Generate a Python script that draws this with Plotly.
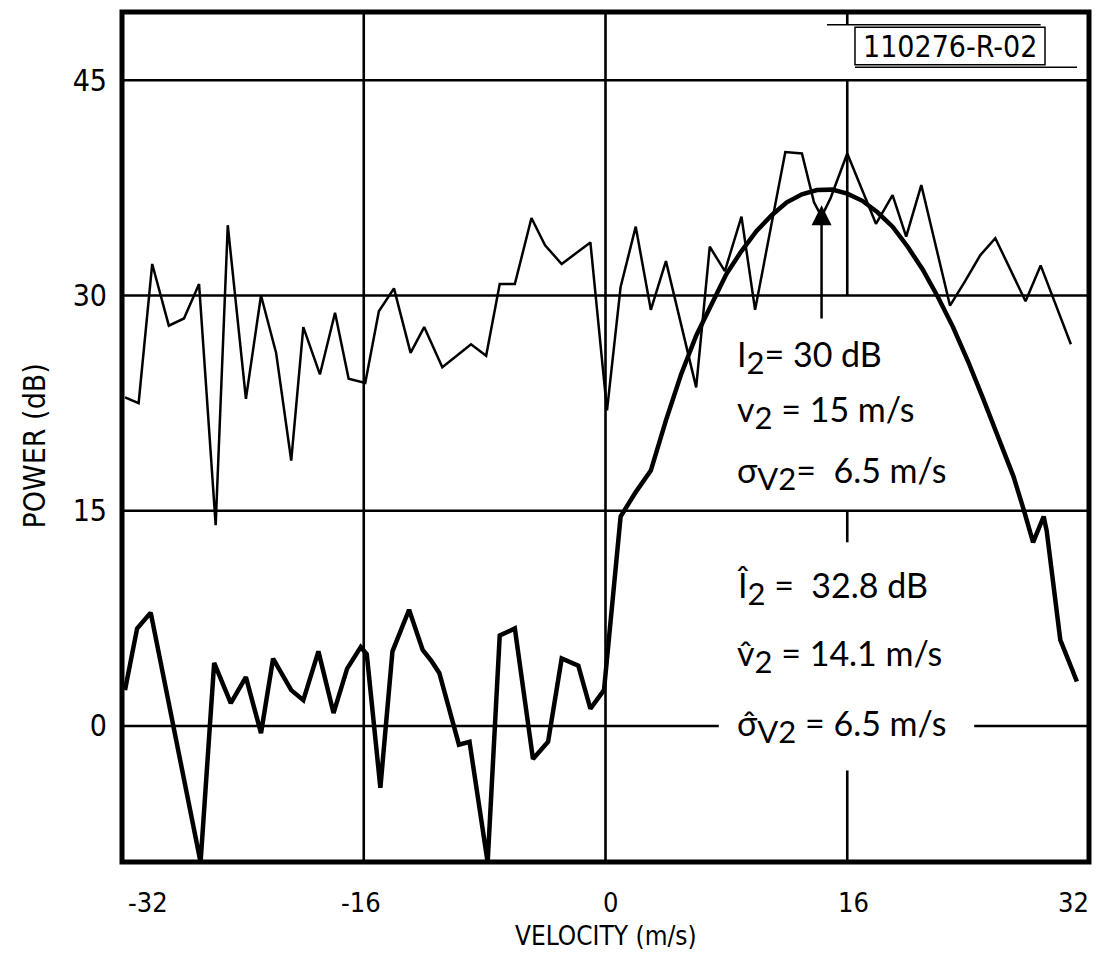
import plotly.graph_objects as go

# ---- data ----
thin_v = [-31.8, -30.9, -30.0, -28.9, -27.9, -26.9, -25.8, -25.0, -23.8, -22.8, -21.8, -20.8,
          -20.0, -18.9, -17.9, -17.0, -15.9, -15.0, -14.0, -12.9, -12.0, -10.8, -8.9, -7.9,
          -7.0, -6.0, -4.9, -4.0, -2.9, -1.0, 0.1, 1.0, 2.0, 3.0, 4.0, 6.0, 6.9, 7.9, 9.0,
          9.9, 11.9, 13.0, 13.8, 14.3, 14.9, 16.0, 17.9, 19.0, 19.9, 20.9, 22.8, 23.8, 24.8,
          25.8, 27.8, 28.8, 30.8]
thin_p = [22.9, 22.5, 32.2, 27.9, 28.4, 30.8, 14.0, 34.9, 22.8, 30.0, 26.0, 18.5,
          27.8, 24.5, 28.8, 24.2, 23.9, 28.9, 30.5, 26.0, 27.8, 25.0, 26.6, 25.8,
          30.8, 30.8, 35.4, 33.5, 32.2, 33.7, 22.0, 30.6, 34.8, 29.0, 32.4, 23.6, 33.4, 31.7, 35.5,
          29.0, 40.0, 39.9, 36.5, 35.5, 36.8, 39.9, 35.0, 37.0, 34.1, 37.7, 29.3, 31.0, 32.8,
          34.0, 29.6, 32.1, 26.6]

thick_v = [-31.8, -31.0, -30.1, -26.8, -25.9, -24.8, -23.8, -22.8, -22.0, -20.8, -20.0, -19.0,
           -18.0, -17.1, -16.2, -15.8, -14.9, -14.1, -13.0, -12.1, -11.5, -11.0, -9.7, -9.0,
           -7.8, -7.0, -6.0, -4.8, -3.8, -2.9, -1.8, -1.0, -0.1, 0.5, 1.0, 2.0, 3.0, 4.0,
           5.0, 6.0, 7.0, 8.0, 9.0, 10.0, 11.0, 12.0, 13.0, 14.0, 15.0, 16.0, 17.0, 18.0,
           19.0, 20.0, 21.0, 22.0, 23.0, 24.0, 25.0, 26.0, 27.0, 27.7, 28.3, 29.0, 29.2,
           30.1, 31.2]
thick_p = [2.5, 6.8, 7.9, -9.5, 4.4, 1.6, 3.4, -0.5, 4.7, 2.5, 1.8, 5.2,
           0.9, 4.0, 5.5, 5.0, -4.3, 5.2, 8.1, 5.3, 4.5, 3.7, -1.3, -1.1,
           -9.5, 6.3, 6.8, -2.3, -1.1, 4.7, 4.2, 1.2, 2.5, 9.5, 14.6, 16.3, 17.8, 21.3,
           24.5, 27.2, 29.4, 31.5, 33.1, 34.5, 35.6, 36.5, 37.05, 37.35, 37.38, 37.1, 36.6, 35.8,
           34.8, 33.4, 31.8, 29.9, 27.8, 25.4, 22.8, 20.2, 17.4, 15.0, 12.8, 14.6, 13.6,
           6.0, 3.1]

x_ticks = [-32, -16, 0, 16, 32]
y_ticks = [0, 15, 30, 45]
x_tick_text = ["-32", "-16", "0", "16", "32"]
est_velocity = 14.3  # arrow position (estimated mean velocity)

X_RANGE = [-32, 32]
Y_RANGE = [-9.48, 49.76]

fig = go.Figure()
fig.add_trace(go.Scatter(x=thin_v, y=thin_p, mode="lines",
                         line=dict(color="black", width=2.5), hoverinfo="skip"))
fig.add_trace(go.Scatter(x=thick_v, y=thick_p, mode="lines",
                         line=dict(color="black", width=4.5), hoverinfo="skip"))

GRID_W = 2.6
shapes = []
for yv in [15, 30, 45]:
    shapes.append(dict(type="line", xref="x", yref="y", x0=X_RANGE[0], x1=X_RANGE[1],
                       y0=yv, y1=yv, line=dict(color="black", width=GRID_W), layer="below"))
for xa, xb in [(X_RANGE[0], 7.5), (24.4, X_RANGE[1])]:
    shapes.append(dict(type="line", xref="x", yref="y", x0=xa, x1=xb, y0=0, y1=0,
                       line=dict(color="black", width=GRID_W), layer="below"))
for xv in [-16, 0]:
    shapes.append(dict(type="line", xref="x", yref="y", x0=xv, x1=xv,
                       y0=Y_RANGE[0], y1=Y_RANGE[1], line=dict(color="black", width=GRID_W),
                       layer="below"))
for ya, yb in [(30, 45), (12.8, 15), (Y_RANGE[0], -3.1), (48.9, Y_RANGE[1])]:
    shapes.append(dict(type="line", xref="x", yref="y", x0=16, x1=16, y0=ya, y1=yb,
                       line=dict(color="black", width=GRID_W), layer="below"))
shapes.append(dict(type="rect", xref="paper", yref="paper", x0=0, x1=1, y0=0, y1=1,
                   line=dict(color="black", width=5)))
shapes.append(dict(type="line", xref="paper", yref="paper", x0=0.729, x1=0.950,
                   y0=0.985, y1=0.985, line=dict(color="black", width=1.5)))
shapes.append(dict(type="rect", xref="paper", yref="paper", x0=0.758, x1=0.9545,
                   y0=0.938, y1=0.982, line=dict(color="black", width=1.5)))
shapes.append(dict(type="line", xref="paper", yref="paper", x0=0.758, x1=0.9876,
                   y0=0.935, y1=0.935, line=dict(color="black", width=1.5)))

TXT = "Lato, Open Sans, sans-serif"
TICKF = "Liberation Sans Narrow, DejaVu Sans Condensed, Liberation Sans, sans-serif"
ann = []
S = 'style="font-size:31px"'
lines = [
    (25.7, f"I<sub><span {S}>2</span></sub>= 30 dB"),
    (21.9, f"v<sub><span {S}>2</span></sub> = 15 m/s"),
    (17.6, f"σ<sub><span {S}>V2</span></sub>=  6.5 m/s"),
    (9.6, f"Î<sub><span {S}>2</span></sub> =  32.8 dB"),
    (4.9, f"v\u0302<sub><span {S}>2</span></sub> = 14.1 m/s"),
    (0.0, f"σ\u0302<sub><span {S}>V2</span></sub> = 6.5 m/s"),
]
for yv, t in lines:
    ann.append(dict(x=8.6, y=yv, xref="x", yref="y", text=t, showarrow=False,
                    xanchor="left", yanchor="middle", font=dict(family=TXT, size=34, color="black")))

ann.append(dict(x=est_velocity, y=36.3, ax=est_velocity, ay=28.3, xref="x", yref="y",
                axref="x", ayref="y", showarrow=True, arrowhead=2, arrowsize=1.6,
                arrowwidth=2.5, arrowcolor="black", text=""))

x_label_pos = [-30.3, -16.2, 0.3, 16.4, 31.0]
for xp, t in zip(x_label_pos, x_tick_text):
    ann.append(dict(x=xp, y=-0.048, xref="x", yref="paper", text=t, showarrow=False,
                    xanchor="center", yanchor="middle",
                    font=dict(family=TICKF, size=27, color="black")))

ann.append(dict(x=0.5, y=-0.087, xref="paper", yref="paper", text="VELOCITY (m/s)",
                showarrow=False, xanchor="center", yanchor="middle",
                font=dict(family=TICKF, size=26, color="black")))
ann.append(dict(x=-0.09, y=0.49, xref="paper", yref="paper", text="POWER (dB)",
                showarrow=False, xanchor="center", yanchor="middle", textangle=-90,
                font=dict(family=TICKF, size=30, color="black")))
ann.append(dict(x=0.856, y=0.96, xref="paper", yref="paper", text="110276-R-02",
                showarrow=False, xanchor="center", yanchor="middle",
                font=dict(family=TICKF, size=30, color="black")))

# the page body adds an 8px margin on every side, so the figure is 16px smaller
fig.update_layout(
    width=1087, height=944,
    margin=dict(l=114, r=6, t=4, b=90),
    paper_bgcolor="white", plot_bgcolor="white",
    showlegend=False,
    shapes=shapes, annotations=ann,
    xaxis=dict(range=X_RANGE, showgrid=False, zeroline=False, showticklabels=False,
               showline=False, ticks="", tickvals=x_ticks, fixedrange=True),
    yaxis=dict(range=Y_RANGE, showgrid=False, zeroline=False, tickvals=y_ticks,
               ticks="", showline=False, ticklabelstandoff=14,
               tickfont=dict(family=TICKF, size=30, color="black"), fixedrange=True),
)

fig.write_html("out.html")
